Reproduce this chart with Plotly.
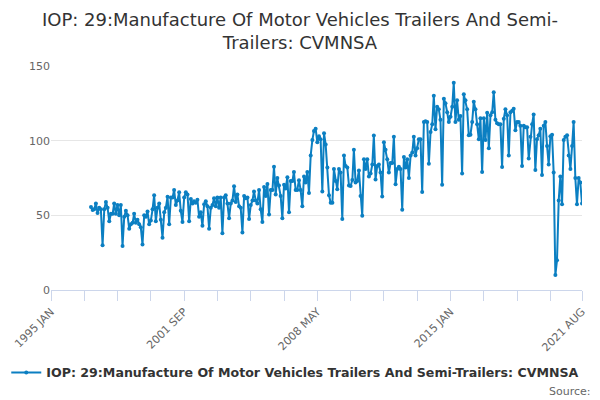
import pandas as pd
import plotly.graph_objects as go

series_name = "IOP: 29:Manufacture Of Motor Vehicles Trailers And Semi-Trailers: CVMNSA"

# monthly values, one list per year (starts 1997 JAN)
y1997 = [55.5, 53.5, 54, 58, 51.5, 55, 54, 30, 54, 59, 55, 46]
y1998 = [51, 51, 58, 51, 57, 50, 57, 29.5, 49, 53, 50, 41]
y1999 = [44, 45, 51, 45, 47, 44, 42, 30.5, 50, 49, 52.5, 44]
y2000 = [46.5, 54, 63.5, 46, 55, 58, 47, 35, 52, 55, 62.5, 44]
y2001 = [62, 62, 67, 57, 60, 65.5, 53, 45.5, 62, 65.5, 64, 46]
y2002 = [61, 58, 59.5, 58.5, 60.5, 49, 52, 43, 57.5, 59.5, 56, 41]
y2003 = [55, 57, 61.5, 56, 62, 55, 62, 38, 62, 63.5, 58, 48]
y2004 = [58, 60, 69.5, 59, 64, 56, 55, 38.5, 63, 61.5, 62, 47.5]
y2005 = [57, 60, 66, 60, 58, 67, 54, 45.5, 69, 63, 71, 50.5]
y2006 = [67, 67, 82.5, 64, 75, 70, 63, 48, 70.5, 68, 75.5, 52]
y2007 = [73, 73, 79, 67, 67, 73.5, 67, 56, 76, 72, 79, 65]
y2008 = [90, 100.5, 106.5, 108, 99, 103, 101, 66, 105, 97.5, 82, 63.5]
y2009 = [58.5, 58.5, 81, 73, 67.5, 81, 78.6, 47.5, 90, 83, 82, 70]
y2010 = [69.7, 73.7, 94, 72, 73, 80, 63, 49.7, 87.5, 81, 87.5, 76]
y2011 = [78, 84, 103.5, 74, 83, 84, 78.6, 62.6, 99, 94, 87.5, 78.6]
y2012 = [85, 85, 102.7, 70.8, 81, 82.6, 81, 53.7, 89, 82, 87.5, 75]
y2013 = [90, 92, 102.7, 90, 95, 101, 101, 65.7, 112.5, 113, 112.5, 84.6]
y2014 = [105.8, 111, 130, 107.6, 122.7, 121, 114, 70.4, 128, 125, 119, 112.5]
y2015 = [116, 122.7, 138.8, 112.5, 127, 114, 116.5, 78, 131, 127, 121, 103.6]
y2016 = [104, 112.5, 126, 121, 111, 101, 115, 79, 115, 100.5, 118.7, 95]
y2017 = [117, 119, 132.5, 114, 111.6, 111, 111, 82.4, 114.7, 121, 117, 90]
y2018 = [119, 120, 121.4, 107, 112.5, 112.5, 110, 83, 110, 109, 109, 88]
y2019 = [102.7, 111, 117.6, 80.4, 101, 103.6, 108, 77, 110, 112.5, 96.5, 84]
y2020 = [103, 104, 78.6, 10, 20, 60, 76, 57.5, 100.5, 102.7, 103.6, 90]
y2021 = [81, 96.5, 112.5, 75, 57.5, 75, 72, 58]

years = [y1997, y1998, y1999, y2000, y2001, y2002, y2003, y2004, y2005,
	y2006, y2007, y2008, y2009, y2010, y2011, y2012, y2013, y2014, y2015,
	y2016, y2017, y2018, y2019, y2020, y2021]

# x axis ticks (every 20 months, plus the last month)
tick_months = ["1995-01", "1996-09", "1998-05", "2000-01", "2001-09", "2003-05",
	"2005-01", "2006-09", "2008-05", "2010-01", "2011-09", "2013-05",
	"2015-01", "2016-09", "2018-05", "2020-01", "2021-08"]
tick_labels = ["1995 JAN", "", "", "", "2001 SEP", "", "", "", "2008 MAY",
	"", "", "", "2015 JAN", "", "", "", "2021 AUG"]

values = [v for yr in years for v in yr]
months = pd.date_range("1997-01-01", periods=len(values), freq="MS")

line_color = "#0b7fc2"
fig = go.Figure()
fig.add_trace(go.Scatter(
	x=months,
	y=values,
	mode="lines+markers",
	name=series_name,
	line=dict(color=line_color, width=2),
	marker=dict(color=line_color, size=4),
))

fig.update_layout(
	width=600, height=400,
	margin=dict(l=46, r=17, t=66, b=109),
	paper_bgcolor="white", plot_bgcolor="white",
	font=dict(family="DejaVu Sans", color="#333333"),
	title=dict(
		text="IOP: 29:Manufacture Of Motor Vehicles Trailers And Semi-<br>Trailers: CVMNSA",
		x=0.5, xanchor="center", y=0.935, yanchor="middle",
		font=dict(size=18, color="#333333"),
	),
	showlegend=True,
	legend=dict(
		orientation="h", x=0.46, xanchor="center", y=-0.37, yanchor="middle",
		font=dict(size=12.6, color="#333333", weight="bold"),
	),
	xaxis=dict(
		type="date",
		range=["1995-01-01", "2021-08-01"],
		tickvals=[m + "-01" for m in tick_months],
		ticktext=tick_labels,
		tickangle=-45,
		ticks="outside", ticklen=10, tickcolor="#ccd6eb",
		showline=True, linecolor="#ccd6eb",
		showgrid=False, zeroline=False,
		tickfont=dict(size=11, color="#666666"),
	),
	yaxis=dict(
		range=[0, 150],
		tickvals=[0, 50, 100, 150],
		showgrid=True, gridcolor="#e6e6e6",
		zeroline=False, showline=False,
		tickfont=dict(size=11, color="#666666"),
	),
)

fig.add_annotation(
	text="Source:", xref="paper", yref="paper",
	x=1.02, y=-0.455, xanchor="right", yanchor="middle",
	showarrow=False, font=dict(size=11, color="#666666"),
)

# page body has a default 8px margin; drop it so the 600x400 figure fits the window
fig.write_html("out.html", config={"displayModeBar": False},
	post_script="document.body.style.margin='0';")
